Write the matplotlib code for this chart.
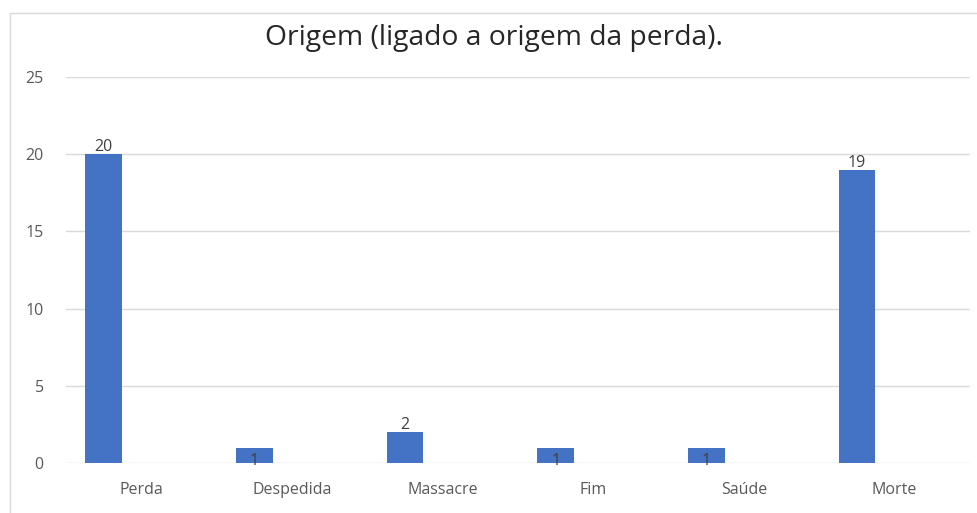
import matplotlib
matplotlib.use('Agg')
import matplotlib.pyplot as plt
import numpy as np
from matplotlib.patches import Rectangle

# Données
categories = ['Perda', 'Despedida', 'Massacre', 'Fim', 'Saúde', 'Morte']
valeurs = [20, 1, 2, 1, 1, 19]
yticks = [0, 5, 10, 15, 20, 25]

plt.rcParams['font.family'] = ['Open Sans', 'DejaVu Sans']

fig = plt.figure(figsize=(9.78, 5.13), dpi=100)
ax = fig.add_axes([66/978, 50/513, 904/978, 386/513])

# Cadre du graphique
fig.patches.append(Rectangle((10/978, -0.1), 1.2, 1 - 13/513 + 0.1,
                             transform=fig.transFigure, fill=False,
                             edgecolor='#d9d9d9', lw=1, zorder=0))

x = np.arange(len(categories))
ax.bar(x - 0.25, valeurs, width=0.245, color='#4472c4', zorder=3)

for xi, v in zip(x, valeurs):
    dy = 5 if v > 1 else -10
    ax.annotate(str(v), (xi - 0.25, v), xytext=(0, dy), textcoords='offset points',
                ha='center', va='center', fontsize=11.5, color='#404040', zorder=4)

ax.set_xlim(-0.5, len(categories) - 0.5)
ax.set_ylim(0, 25)
ax.set_yticks(yticks)
ax.set_xticks(x)
ax.set_xticklabels(categories)
ax.tick_params(axis='both', length=0, labelsize=11.5, labelcolor='#595959')
ax.tick_params(axis='y', pad=16)
ax.tick_params(axis='x', pad=14)
ax.grid(axis='y', color='#d9d9d9', lw=1, zorder=0)
for s in ax.spines.values():
    s.set_visible(False)

fig.text(494/978, 1 - 38/513, 'Origem (ligado a origem da perda).', ha='center', va='center',
         fontsize=20.3, color='#262626')

fig.savefig('out.png', dpi=100, facecolor='white')
